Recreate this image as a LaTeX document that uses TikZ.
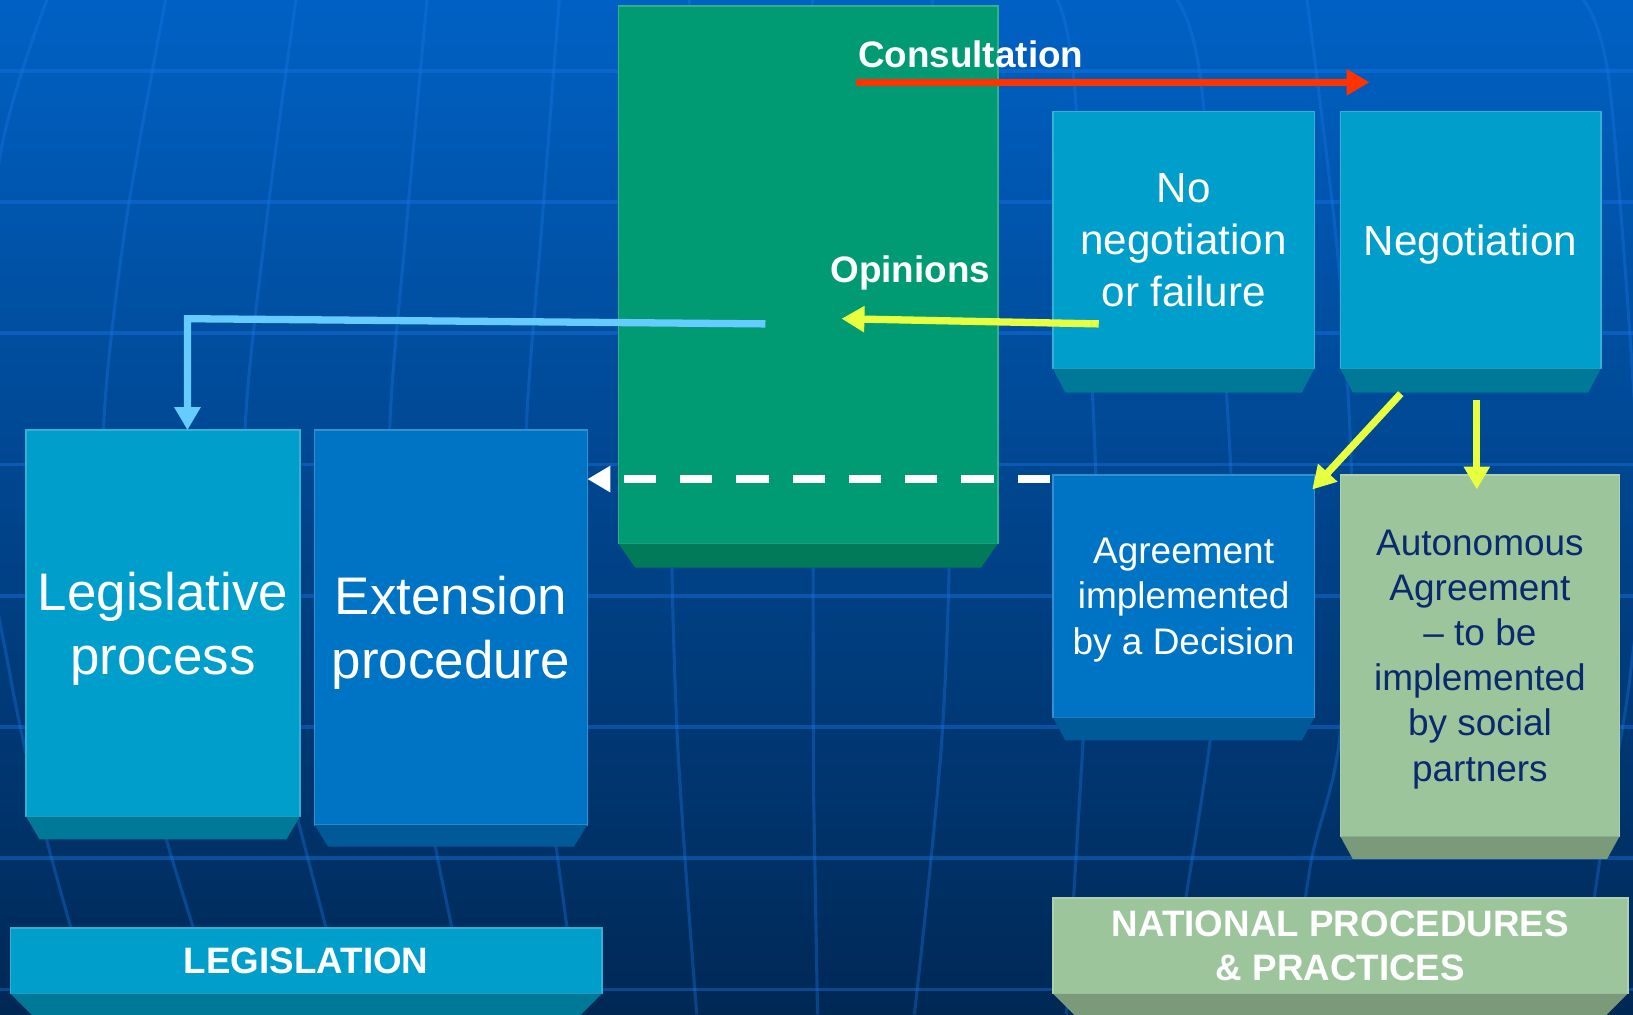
\documentclass[tikz,border=0pt]{standalone}
\usepackage{fontspec}
\setmainfont{Liberation Sans}
\usetikzlibrary{arrows.meta,calc}

\definecolor{bgtop}{HTML}{0061C4}
\definecolor{bgmid}{HTML}{004E9E}
\definecolor{bgbot}{HTML}{002855}
\definecolor{gridc}{HTML}{1A78E6}
\definecolor{greenf}{HTML}{009B72}
\definecolor{greenb}{HTML}{007A58}
\definecolor{cyanf}{HTML}{009ECA}
\definecolor{cyanb}{HTML}{007898}
\definecolor{bluef}{HTML}{0074C4}
\definecolor{blueb}{HTML}{005A98}
\definecolor{sagef}{HTML}{9CC59C}
\definecolor{sageb}{HTML}{7A9A7A}
\definecolor{navytxt}{HTML}{0A2A6E}
\definecolor{arrred}{HTML}{FF3300}
\definecolor{arryel}{HTML}{E8FF40}
\definecolor{arrsky}{HTML}{66CCFF}

\tikzset{
  block/.style={rectangle, anchor=north west, inner sep=0pt, outer sep=0pt,
    align=center, text=white, text depth=-5pt, fill=#1, draw=#1!80!white, line width=1.5pt},
  gridline/.style={gridc, opacity=0.4, line width=3.5pt},
  meridian/.style={gridc, opacity=0.35, line width=3pt},
  tip/.style={-{Triangle[length=22pt,width=24pt]}},
  redarrow/.style={tip, arrred, line width=7pt},
  yelarrow/.style={tip, arryel, line width=7pt},
  skyarrow/.style={tip, arrsky, line width=7pt},
  dasharrow/.style={tip, white, line width=8pt, dash pattern=on 31pt off 23pt},
  lbl/.style={text=white, font=\fontsize{35.4}{42}\selectfont\bfseries}
}

\newcommand\bigtxt{\fontsize{50.8}{61}\selectfont}
\newcommand\midtxt{\fontsize{40.5}{50}\selectfont}
\newcommand\smalltxt{\fontsize{35.5}{43.3}\selectfont}
\newcommand\bartxt{\fontsize{35.3}{43}\selectfont\bfseries}

\begin{document}
\begin{tikzpicture}[x=1pt, y=-1pt]
  % background
  \shade[top color=bgtop, middle color=bgmid, bottom color=bgbot] (0,0) rectangle (1568,974);
  \useasboundingbox (0,0) rectangle (1568,974);
  \begin{scope}
    \clip (0,0) rectangle (1568,974);
    \foreach \y in {68,194,...,950}
      \draw[gridline] (0,\y) -- (1568,\y);
    \draw[meridian] plot[smooth] coordinates {(45,0) (0,150) (-25,420) (10,650) (45,807) (92,974)};
    \draw[meridian] plot[smooth] coordinates {(159,0) (120,220) (99,422) (110,620) (160,807) (212,974)};
    \draw[meridian] plot[smooth] coordinates {(284,0) (255,220) (235,422) (245,620) (286,787) (335,974)};
    \draw[meridian] plot[smooth] coordinates {(410,0) (390,220) (374,422) (385,620) (418,813) (452,974)};
    \draw[meridian] plot[smooth] coordinates {(537,0) (520,220) (505,422) (510,620) (534,813) (556,974)};
    \draw[meridian] plot[smooth] coordinates {(662,0) (645,420) (650,700) (669,974)};
    \draw[meridian] (780,0) -- (781,749) -- (785,974);
    \draw[meridian] plot[smooth] coordinates {(895,0) (912,420) (905,700) (878,974)};
    \draw[meridian] plot[smooth] coordinates {(1015,0) (1032,86) (1053,490) (1040,711) (1024,974)};
    \draw[meridian] plot[smooth] coordinates {(1130,0) (1154,86) (1183,490) (1162,711) (1120,974)};
    \draw[meridian] plot[smooth] coordinates {(1255,0) (1285,250) (1298,480) (1286,711) (1259,827) (1238,974)};
    \draw[meridian] plot[smooth] coordinates {(1520,0) (1546,86) (1575,490) (1565,651) (1540,800) (1515,974)};
  \end{scope}

  % boxes
  \node[block=greenf, minimum width=364pt, minimum height=516pt] (green) at (594,6) {};
  \node[block=cyanf, minimum width=251pt, minimum height=247pt, font=\midtxt] (nofail) at (1011,107) {No\\negotiation\\or failure};
  \node[block=cyanf, minimum width=250pt, minimum height=247pt, font=\midtxt] (negot) at (1287,107) {Negotiation};
  \node[block=cyanf, minimum width=263pt, minimum height=371pt, font=\bigtxt] (legis) at (25,413) {Legislative\\process};
  \node[block=bluef, minimum width=262pt, minimum height=379pt, font=\bigtxt] (extend) at (302,413) {Extension\\procedure};
  \node[block=bluef, minimum width=251pt, minimum height=233pt, font=\smalltxt] (agree) at (1011,456) {Agreement\\implemented\\by a Decision};
  \node[block=sagef, minimum width=268pt, minimum height=347pt, font=\smalltxt, text=navytxt] (auton) at (1287,456) {Autonomous\\Agreement\\– to be\\implemented\\by social\\partners};
  \node[block=cyanf, minimum width=568pt, minimum height=63pt, font=\bartxt] (legbar) at (10,891) {LEGISLATION};
  \node[block=sagef, minimum width=552pt, minimum height=92pt, font=\bartxt] (natbar) at (1011,862) {NATIONAL PROCEDURES\\\& PRACTICES};

  % bevels under the boxes
  \foreach \n/\c/\i/\d in {green/greenb/16/23, nofail/cyanb/12/23, negot/cyanb/12/23,
      legis/cyanb/13/22, extend/blueb/13/21, agree/blueb/12/22, auton/sageb/12/22,
      legbar/cyanb/22/22, natbar/sageb/22/22}
    \fill[\c] (\n.south west) -- (\n.south east) -- ($(\n.south east)+(-\i,\d)$)
      -- ($(\n.south west)+(\i,\d)$) -- cycle;

  % labels
  \node[lbl] (consult) at (932,52) {Consultation};
  \node[lbl] (opin) at (874,262) {Opinions};

  % arrows
  \coordinate (cs) at (822,79);
  \coordinate (ce) at (1315,79);
  \coordinate (op1) at (1055,311);
  \coordinate (op2) at (808,306);
  \coordinate (bl1) at (735,311);
  \coordinate (bl2) at (180,306);
  \coordinate (dsh) at (1008,460);
  \coordinate (ng1) at (1345,378);
  \coordinate (ag1) at (1260,470);
  \coordinate (ng2) at (1418,384);
  \coordinate (au1) at (1418,470);
  \draw[redarrow] (cs) -- (ce);
  \draw[yelarrow] (op1) -- (op2);
  \draw[skyarrow] (bl1) -- (bl2) -- (bl2 |- legis.north);
  \draw[dasharrow] (dsh) -- (extend.east |- dsh);
  \draw[yelarrow] (ng1) -- (ag1);
  \draw[yelarrow] (ng2) -- (au1);
\end{tikzpicture}
\end{document}
